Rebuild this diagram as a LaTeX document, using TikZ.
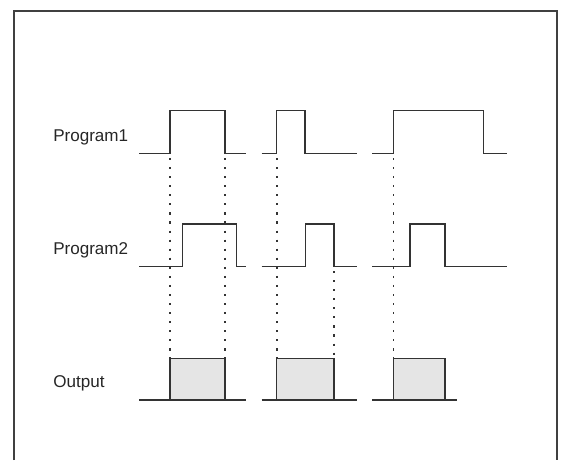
\documentclass[tikz,border=0pt]{standalone}
\usepackage{fontspec}
\setmainfont{Liberation Sans}
\begin{document}
\begin{tikzpicture}[x=0.75pt,y=-0.75pt,
  sig/.style={draw=black!80, line width=1.1pt, line join=miter},
  dotline/.style={draw=black!80, line width=1.2pt, dash pattern=on 1.6pt off 5.2pt},
  frame/.style={draw=black!75, line width=1.5pt},
  lbl/.style={anchor=west, inner sep=0pt, text=black!85, font=\fontsize{12.8pt}{15pt}\selectfont},
  outbox/.style={draw=black!80, line width=1.1pt, fill=black!10}]
\useasboundingbox (0,0) rectangle (563,460);
\draw[frame] (14,460) -- (14,11) -- (557,11) -- (557,460);

\node[lbl] (p1) at (53,137) {Program1};
\node[lbl] (p2) at (53,250) {Program2};
\node[lbl] (out) at (53,383) {Output};

% Program1
\draw[sig] (139,153.3) -- (170,153.3) -- (170,110.7) -- (225,110.7) -- (225,153.3) -- (245.7,153.3);
\draw[sig] (261.7,153.3) -- (276.7,153.3) -- (276.7,110.7) -- (305,110.7) -- (305,153.3) -- (356.7,153.3);
\draw[sig] (372.3,153.3) -- (393.5,153.3) -- (393.5,110.7) -- (483.3,110.7) -- (483.3,153.3) -- (506.7,153.3);

% Program2
\draw[sig] (139,266.7) -- (182.3,266.7) -- (182.3,224) -- (236.7,224) -- (236.7,266.7) -- (245.7,266.7);
\draw[sig] (261.7,266.7) -- (305.7,266.7) -- (305.7,224) -- (334,224) -- (334,266.7) -- (356.7,266.7);
\draw[sig] (372.3,266.7) -- (410,266.7) -- (410,224) -- (445,224) -- (445,266.7) -- (506.7,266.7);

% Output
\draw[outbox] (170,400) rectangle (225,358.3);
\draw[outbox] (276.7,400) rectangle (334,358.3);
\draw[outbox] (393.5,400) rectangle (445,358.3);
\draw[sig] (139,400) -- (245.7,400);
\draw[sig] (261.7,400) -- (356.7,400);
\draw[sig] (372.3,400) -- (456.7,400);

% dotted guides
\draw[dotline] (170,158) -- (170,358.3);
\draw[dotline] (225,158) -- (225,358.3);
\draw[dotline] (276.7,158) -- (276.7,358.3);
\draw[dotline] (334,271) -- (334,358.3);
\draw[dotline] (393.5,158) -- (393.5,358.3);
\end{tikzpicture}
\end{document}
